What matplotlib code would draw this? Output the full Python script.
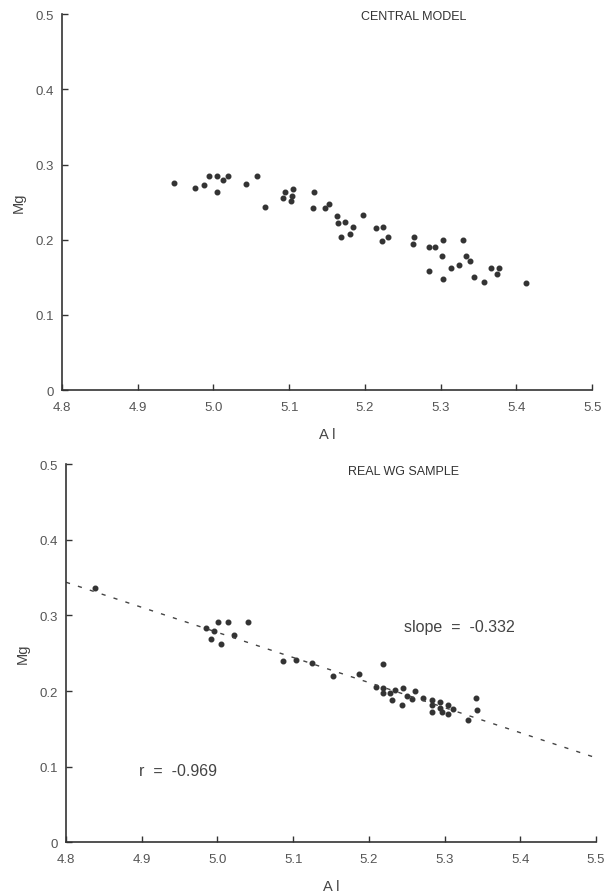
import matplotlib.pyplot as plt
import numpy as np

plt.rcParams['font.family'] = ['Liberation Sans', 'DejaVu Sans']

# top panel: central model
central_al = [4.948, 4.975, 4.987, 4.994, 5.005, 5.012, 5.019, 5.005, 5.043, 5.058,
              5.068, 5.095, 5.105, 5.092, 5.103, 5.102,
              5.133, 5.132, 5.147, 5.153, 5.163, 5.165, 5.173, 5.184, 5.180, 5.168,
              5.198, 5.214, 5.224, 5.231, 5.222, 5.265, 5.263, 5.284, 5.293, 5.303,
              5.302, 5.285,
              5.330, 5.334, 5.339, 5.314, 5.324, 5.303, 5.344, 5.357, 5.366, 5.377,
              5.374, 5.413]
central_mg = [0.275, 0.269, 0.273, 0.285, 0.285, 0.279, 0.285, 0.264, 0.274, 0.285,
              0.244, 0.264, 0.267, 0.255, 0.258, 0.251,
              0.263, 0.242, 0.242, 0.247, 0.231, 0.222, 0.224, 0.217, 0.208, 0.203,
              0.233, 0.215, 0.217, 0.204, 0.199, 0.203, 0.195, 0.191, 0.190, 0.200,
              0.179, 0.158,
              0.200, 0.179, 0.172, 0.163, 0.167, 0.148, 0.151, 0.144, 0.163, 0.163,
              0.155, 0.142]

# bottom panel: real WG sample
real_al = [4.838, 5.001, 5.014, 5.040, 4.985, 4.995, 4.991, 5.005, 5.022,
           5.087, 5.104, 5.125, 5.152, 5.187, 5.219, 5.210, 5.219, 5.219, 5.228,
           5.235, 5.231, 5.245, 5.250, 5.257, 5.261, 5.271, 5.244, 5.283, 5.283,
           5.294, 5.283, 5.294, 5.304, 5.297, 5.311, 5.305, 5.331, 5.342, 5.343]
real_mg = [0.336, 0.291, 0.292, 0.292, 0.283, 0.279, 0.269, 0.262, 0.274,
           0.240, 0.241, 0.237, 0.220, 0.222, 0.236, 0.205, 0.204, 0.197, 0.197,
           0.202, 0.188, 0.204, 0.194, 0.190, 0.200, 0.191, 0.181, 0.188, 0.181,
           0.186, 0.172, 0.177, 0.181, 0.172, 0.176, 0.170, 0.161, 0.191, 0.175]

# regression line
fit_slope = -0.332
fit_at_48 = 0.344
fit_r = -0.969

x_ticks = [4.8, 4.9, 5.0, 5.1, 5.2, 5.3, 5.4, 5.5]
x_labels = ['4.8', '4.9', '5.0', '5.1', '5.2', '5.3', '5.4', '5.5']
y_ticks = [0, 0.1, 0.2, 0.3, 0.4, 0.5]
y_labels = ['0', '0.1', '0.2', '0.3', '0.4', '0.5']

ink = '#333333'
fig = plt.figure(figsize=(6.08, 8.95), dpi=100)
ax1 = fig.add_axes([0.102, 0.563, 0.872, 0.420])
ax2 = fig.add_axes([0.1086, 0.058, 0.8717, 0.422])


def style(ax):
    ax.set_xlim(4.8, 5.5)
    ax.set_ylim(0, 0.5)
    for s in ['top', 'right']:
        ax.spines[s].set_visible(False)
    for s in ['left', 'bottom']:
        ax.spines[s].set_color(ink)
        ax.spines[s].set_linewidth(1.2)
    ax.set_xticks(x_ticks)
    ax.set_xticklabels(x_labels)
    ax.set_yticks(y_ticks)
    ax.set_yticklabels(y_labels)
    ax.tick_params(direction='in', length=4, width=1, color=ink,
                   labelsize=9.5, labelcolor='#555555', pad=6)
    ax.tick_params(axis='x', pad=8)
    ax.set_xlabel('A l', fontsize=10.5, color='#444444', labelpad=10)
    ax.set_ylabel('Mg', fontsize=10.5, color='#444444', labelpad=7)


style(ax1)
ax1.plot(central_al, central_mg, 'o', color=ink, markersize=3.3, clip_on=False)
ax1.text(5.264, 0.497, 'CENTRAL MODEL', ha='center', va='center',
         fontsize=9, color='#333333')

style(ax2)
ax2.plot(real_al, real_mg, 'o', color=ink, markersize=3.3, clip_on=False)
xl = np.array([4.8, 5.5])
ax2.plot(xl, fit_at_48 + fit_slope * (xl - 4.8), color='#444444', lw=1,
         linestyle=(0, (3, 6)))
ax2.text(5.246, 0.491, 'REAL WG SAMPLE', ha='center', va='center',
         fontsize=9, color='#333333')
ax2.text(5.246, 0.286, 'slope  =  %.3f' % fit_slope, ha='left', va='center',
         fontsize=11.5, color='#444444')
ax2.text(4.897, 0.095, 'r  =  %.3f' % fit_r, ha='left', va='center',
         fontsize=11.5, color='#444444')

fig.savefig('out.png', dpi=100)
